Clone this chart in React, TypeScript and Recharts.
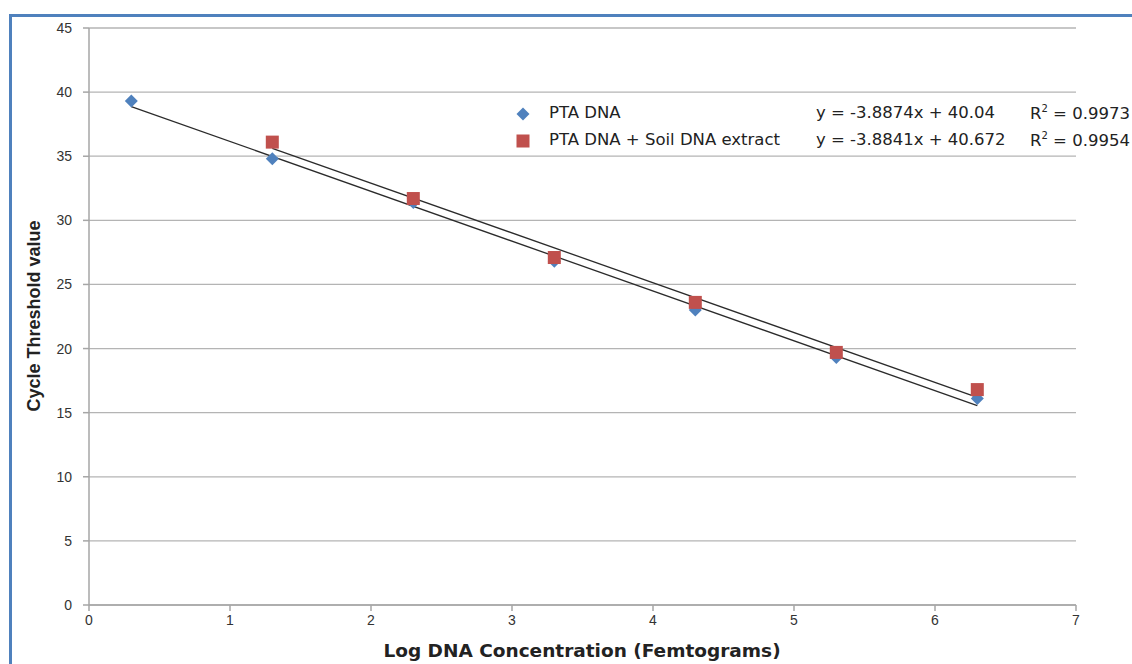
import React from "react";
import {
  ScatterChart, Scatter, XAxis, YAxis, CartesianGrid, Legend,
} from "recharts";

// log DNA concentration (x) vs Ct value (y)
const ptaX = [0.3, 1.3, 2.3, 3.3, 4.3, 5.3, 6.3];
const ptaY = [39.3, 34.8, 31.4, 26.8, 23.0, 19.3, 16.1];
const soilX = [1.3, 2.3, 3.3, 4.3, 5.3, 6.3];
const soilY = [36.1, 31.7, 27.1, 23.6, 19.7, 16.8];

// linear trendline end points as drawn
const ptaTrendX = [0.3, 6.3];
const ptaTrendY = [38.87, 15.55];
const soilTrendX = [1.3, 6.3];
const soilTrendY = [35.62, 16.2];

const xTicks = [0, 1, 2, 3, 4, 5, 6, 7];
const yTicks = [0, 5, 10, 15, 20, 25, 30, 35, 40, 45];

const seriesNames = ["PTA DNA", "PTA DNA + Soil DNA extract"];
const equations = ["y = -3.8874x + 40.04", "y = -3.8841x + 40.672"];
const rSquared = ["0.9973", "0.9954"];

const BLUE = "#4f81bd";
const RED = "#c0504d";
const FONT = "'Liberation Sans', Arial, sans-serif";
const WIDE = "'DejaVu Sans', sans-serif";

const zip = (xs: number[], ys: number[]) => xs.map((x, i) => ({ x, y: ys[i] }));

const Diamond = (props: any) => {
  const { cx, cy } = props;
  if (cx == null || cy == null) return null;
  const r = 6.5;
  return <path d={`M${cx},${cy - r}L${cx + r},${cy}L${cx},${cy + r}L${cx - r},${cy}Z`} fill={BLUE} />;
};

const Square = (props: any) => {
  const { cx, cy } = props;
  if (cx == null || cy == null) return null;
  return <rect x={cx - 6.5} y={cy - 6.5} width={13} height={13} fill={RED} />;
};

const NoDot = () => null;

function LegendBox() {
  const rows = [0, 1];
  return (
    <div style={{ fontFamily: WIDE, fontSize: 16.5, color: "#222", position: "relative", width: 620, height: 60 }}>
      {rows.map((i) => (
        <div key={i} style={{ position: "absolute", top: i * 27, left: 0, height: 20, width: 620 }}>
          <svg width={16} height={16} style={{ position: "absolute", left: 0, top: 2 }}>
            {i === 0
              ? <path d="M8,1.5L14.5,8L8,14.5L1.5,8Z" fill={BLUE} />
              : <rect x={1.5} y={1.5} width={13} height={13} fill={RED} />}
          </svg>
          <span style={{ position: "absolute", left: 34, top: -1, whiteSpace: "nowrap" }}>{seriesNames[i]}</span>
          <span style={{ position: "absolute", left: 301, top: -1, whiteSpace: "nowrap" }}>{equations[i]}</span>
          <span style={{ position: "absolute", left: 515, top: -1, whiteSpace: "nowrap" }}>
            R<sup style={{ fontSize: 10 }}>2</sup> = {rSquared[i]}
          </span>
        </div>
      ))}
    </div>
  );
}

export default function App() {
  const tick = { fill: "#333", fontSize: 14, fontFamily: FONT };
  return (
    <div style={{ position: "absolute", left: 0, top: 0, width: 1132, height: 664, overflow: "hidden", background: "#fff" }}>
      <div style={{
        position: "absolute", left: 9, top: 14, width: 1200, height: 700,
        border: `3px solid ${BLUE}`, boxSizing: "border-box",
      }} />
      <div style={{ position: "absolute", left: 0, top: 0 }}>
        <ScatterChart width={1132} height={664} margin={{ top: 28, right: 56, bottom: 29, left: 29 }}>
          <CartesianGrid horizontal vertical={false} stroke="#b4b4b4" strokeWidth={1.3} />
          <XAxis
            type="number" dataKey="x" domain={[0, 7]} ticks={xTicks} height={30}
            stroke="#a6a6a6" strokeWidth={1.5} tickSize={6} tickMargin={4} tick={tick}
            interval={0} allowDataOverflow
          />
          <YAxis
            type="number" dataKey="y" domain={[0, 45]} ticks={yTicks} width={60}
            stroke="#a6a6a6" strokeWidth={1.5} tickSize={6} tickMargin={11} tick={tick}
            interval={0} allowDataOverflow
          />
          <Legend
            layout="horizontal" verticalAlign="middle" align="center"
            wrapperStyle={{ position: "absolute", left: 515, top: 104, width: 620 }}
            content={() => <LegendBox />}
          />
          <Scatter name="pta-trend" data={zip(ptaTrendX, ptaTrendY)} line={{ stroke: "#2b2b2b", strokeWidth: 1.3 }} shape={NoDot} isAnimationActive={false} legendType="none" />
          <Scatter name="soil-trend" data={zip(soilTrendX, soilTrendY)} line={{ stroke: "#2b2b2b", strokeWidth: 1.3 }} shape={NoDot} isAnimationActive={false} legendType="none" />
          <Scatter name={seriesNames[0]} data={zip(ptaX, ptaY)} shape={Diamond} isAnimationActive={false} />
          <Scatter name={seriesNames[1]} data={zip(soilX, soilY)} shape={Square} isAnimationActive={false} />
        </ScatterChart>
      </div>
      <div style={{
        position: "absolute", left: 0, width: 1164, top: 640, textAlign: "center",
        fontFamily: WIDE, fontWeight: "bold", fontSize: 18.5, color: "#222",
      }}>
        Log DNA Concentration (Femtograms)
      </div>
      <div style={{
        position: "absolute", left: 34, top: 316, transform: "translate(-50%, -50%) rotate(-90deg)",
        whiteSpace: "nowrap", fontFamily: FONT, fontWeight: "bold", fontSize: 18, color: "#222",
      }}>
        Cycle Threshold value
      </div>
    </div>
  );
}
